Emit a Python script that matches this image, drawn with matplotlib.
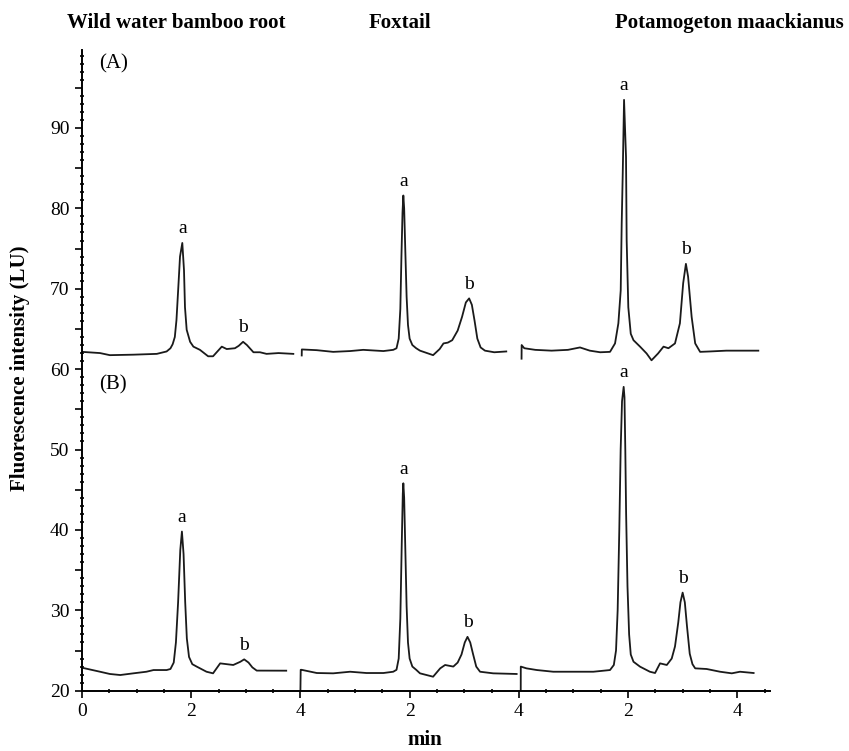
import numpy as np
import matplotlib
matplotlib.use("Agg")
import matplotlib.pyplot as plt
from matplotlib.ticker import MultipleLocator, FixedLocator, FixedFormatter

plt.rcParams['font.family'] = ['Liberation Serif', 'DejaVu Serif']

samples = ["Wild water bamboo root", "Foxtail", "Potamogeton maackianus"]
segment_offsets = [0, 4, 8]
x_tick_pos = [0, 2, 4, 6, 8, 10, 12]
x_tick_labels = ["0", "2", "4", "2", "4", "2", "4"]
y_tick_labels = [20, 30, 40, 50, 60, 70, 80, 90]

# ---- Trace (A) ----
A1_t = [0.0, 0.33, 0.51, 0.94, 1.37, 1.55, 1.62, 1.66, 1.70, 1.73, 1.764, 1.795, 1.837, 1.868,
        1.886, 1.917, 1.98, 2.04, 2.16, 2.31, 2.40, 2.56, 2.65, 2.80, 2.87, 2.95, 3.02, 3.14,
        3.26, 3.38, 3.60, 3.87]
A1_y = [62.15, 62.0, 61.74, 61.8, 61.9, 62.2, 62.6, 63.1, 64.0, 66.1, 70.2, 74.0, 75.7, 72.3,
        67.7, 64.9, 63.4, 62.8, 62.4, 61.6, 61.6, 62.8, 62.5, 62.6, 62.9, 63.4, 63.0, 62.1,
        62.1, 61.9, 62.0, 61.9]

A2_t = [0.024, 0.026, 0.30, 0.60, 0.91, 1.15, 1.52, 1.70, 1.76, 1.80, 1.83, 1.85, 1.87, 1.885,
        1.90, 1.92, 1.945, 1.97, 2.0, 2.05, 2.12, 2.19, 2.43, 2.55, 2.62, 2.70, 2.78, 2.88, 2.96,
        3.03, 3.09, 3.14, 3.19, 3.24, 3.30, 3.38, 3.55, 3.77]
A2_y = [61.7, 62.45, 62.36, 62.15, 62.25, 62.4, 62.25, 62.4, 62.6, 63.8, 67.5, 74.0, 79.5, 81.6,
        80.0, 75.0, 69.0, 65.5, 63.8, 63.0, 62.6, 62.3, 61.74, 62.5, 63.2, 63.3, 63.6, 64.8, 66.5,
        68.3, 68.8, 68.0, 66.0, 63.8, 62.7, 62.3, 62.1, 62.2]

A3_t = [0.05, 0.052, 0.10, 0.30, 0.60, 0.90, 1.12, 1.30, 1.49, 1.67, 1.762, 1.823, 1.866, 1.884,
        1.903, 1.927, 1.963, 1.975, 2.005, 2.05, 2.10, 2.22, 2.34, 2.43, 2.55, 2.65, 2.74, 2.86,
        2.95, 3.01, 3.06, 3.10, 3.165, 3.23, 3.32, 3.50, 3.8, 4.1, 4.386]
A3_y = [61.3, 63.0, 62.6, 62.4, 62.3, 62.4, 62.7, 62.3, 62.1, 62.15, 63.2, 65.7, 69.8, 78.1,
        84.3, 93.5, 86.4, 76.0, 67.7, 64.4, 63.6, 62.8, 61.95, 61.1, 61.95, 62.8, 62.6, 63.2,
        65.7, 70.7, 73.1, 71.5, 66.5, 63.2, 62.15, 62.2, 62.3, 62.3, 62.3]

# ---- Trace (B) ----
B1_t = [0.0, 0.33, 0.51, 0.70, 0.94, 1.18, 1.31, 1.55, 1.62, 1.68, 1.72, 1.76, 1.80, 1.83, 1.86,
        1.89, 1.92, 1.96, 2.02, 2.10, 2.28, 2.40, 2.53, 2.65, 2.77, 2.90, 2.97, 3.05, 3.12, 3.20,
        3.74]
B1_y = [22.86, 22.36, 22.08, 21.95, 22.16, 22.36, 22.57, 22.57, 22.7, 23.5, 26.0, 31.0, 37.5,
        39.8, 37.0, 31.0, 26.5, 24.2, 23.3, 23.0, 22.36, 22.16, 23.4, 23.3, 23.2, 23.6, 23.9, 23.5,
        22.9, 22.5, 22.49]

B2_t = [0.0, 0.005, 0.02, 0.30, 0.60, 0.91, 1.21, 1.52, 1.70, 1.76, 1.80, 1.83, 1.855, 1.875,
        1.885, 1.90, 1.92, 1.945, 1.97, 2.0, 2.05, 2.12, 2.19, 2.43, 2.56, 2.65, 2.80, 2.88, 2.95,
        3.01, 3.06, 3.11, 3.16, 3.22, 3.29, 3.53, 3.96]
B2_y = [20.0, 22.6, 22.6, 22.2, 22.16, 22.36, 22.2, 22.2, 22.36, 22.6, 24.0, 29.0, 38.0, 44.5,
        45.8, 44.0, 38.0, 30.5, 26.0, 24.0, 23.0, 22.6, 22.16, 21.74, 22.78, 23.2, 23.0, 23.5, 24.5,
        26.0, 26.7, 26.0, 24.6, 23.0, 22.36, 22.16, 22.08]

B3_t = [0.035, 0.036, 0.14, 0.33, 0.63, 1.0, 1.365, 1.67, 1.74, 1.78, 1.81, 1.84, 1.865, 1.89,
        1.92, 1.935, 1.95, 1.965, 1.99, 2.02, 2.05, 2.10, 2.22, 2.40, 2.495, 2.586, 2.71, 2.80,
        2.86, 2.92, 2.96, 3.0, 3.04, 3.08, 3.13, 3.18, 3.23, 3.44, 3.685, 3.90, 4.05, 4.30]
B3_y = [20.0, 23.0, 22.78, 22.57, 22.36, 22.36, 22.36, 22.57, 23.2, 25.0, 30.0, 40.0, 50.0, 56.0,
        57.8, 56.5, 50.0, 42.0, 33.0, 27.0, 24.5, 23.6, 22.99, 22.36, 22.2, 23.4, 23.2, 24.0,
        25.5, 28.5, 31.0, 32.2, 31.0, 28.0, 24.6, 23.3, 22.78, 22.7, 22.36, 22.16, 22.36, 22.2]

# peak retention times (min) for labels a / b
A_peak_a = [1.837, 1.885, 1.927]
A_peak_b = [2.95, 3.09, 3.06]
B_peak_a = [1.83, 1.885, 1.92]
B_peak_b = [2.97, 3.06, 3.0]

A_traces = [(A1_t, A1_y), (A2_t, A2_y), (A3_t, A3_y)]
B_traces = [(B1_t, B1_y), (B2_t, B2_y), (B3_t, B3_y)]

W, H = 849, 751
fig = plt.figure(figsize=(W / 100, H / 100), dpi=100)
ax = fig.add_axes([82 / W, 1 - 690.7 / H, (770 - 82) / W, (690.7 - 50) / H])

line_color = "#1a1a1a"
for traces, pa, pb in [(A_traces, A_peak_a, A_peak_b), (B_traces, B_peak_a, B_peak_b)]:
    for (t, y), off, ta, tb in zip(traces, segment_offsets, pa, pb):
        t = np.asarray(t) + off
        y = np.asarray(y)
        ax.plot(t, y, color=line_color, lw=1.3, solid_joinstyle='round')
        for tp, lab in [(ta, "a"), (tb, "b")]:
            mask = np.abs(t - (tp + off)) < 0.07
            ypk = y[mask].max()
            ax.annotate(lab, (tp + off, ypk), xytext=(0, 4), textcoords="offset points",
                        ha="center", va="bottom", fontsize=14)

ax.text(0.57, 98.0, "(A)", fontsize=15, ha="center", va="center")
ax.text(0.57, 58.0, "(B)", fontsize=15, ha="center", va="center")

ax.set_xlim(0, 12.6)
ax.set_ylim(20, 99.7)
for s in ["top", "right"]:
    ax.spines[s].set_visible(False)
ax.spines["left"].set_linewidth(1.4)
ax.spines["bottom"].set_linewidth(1.4)

ax.xaxis.set_major_locator(FixedLocator(x_tick_pos))
ax.xaxis.set_major_formatter(FixedFormatter(x_tick_labels))
ax.xaxis.set_minor_locator(MultipleLocator(0.5))
y_major = list(np.arange(20, 100, 5))
ax.yaxis.set_major_locator(FixedLocator(y_major))
ax.yaxis.set_major_formatter(FixedFormatter([str(v) if v in y_tick_labels else "" for v in y_major]))
ax.yaxis.set_minor_locator(MultipleLocator(1))
ax.tick_params(which="major", direction="out", length=5, width=1.2, labelsize=14, pad=4)
ax.tick_params(which="minor", direction="inout", length=3, width=1.2)

for name, xc in zip(samples, [176, 400, 729]):
    fig.text(xc / W, 1 - 23 / H, name, ha="center", va="center", fontsize=15, fontweight="bold")

fig.text(20 / W, 1 - 368 / H, "Fluorescence intensity (LU)", rotation=90, ha="center", va="center",
         fontsize=15, fontweight="bold")
fig.text(425 / W, 1 - 740 / H, "min", ha="center", va="center", fontsize=15, fontweight="bold")

fig.savefig("out.png", dpi=100)
